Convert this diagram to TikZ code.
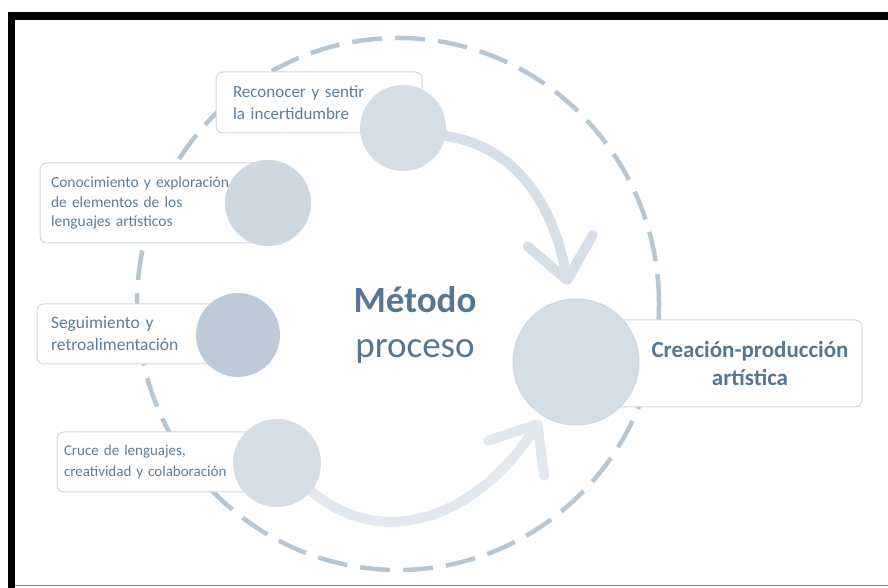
\documentclass[tikz,border=0pt]{standalone}
\usepackage{fontspec}
\setmainfont{Carlito}
\usetikzlibrary{arrows.meta}

\definecolor{anillo}{RGB}{184,198,210}
\definecolor{bordecaja}{RGB}{206,215,224}
\definecolor{letra}{RGB}{96,125,150}
\definecolor{letrafuerte}{RGB}{86,118,145}
\definecolor{bolaclara}{RGB}{213,221,229}
\definecolor{bolamedia}{RGB}{207,216,225}
\definecolor{bolaoscura}{RGB}{188,203,215}
\definecolor{flechaA}{RGB}{214,223,231}
\definecolor{flechaB}{RGB}{226,232,238}

\tikzset{
  caja/.style={draw=bordecaja, fill=white, line width=1pt, rounded corners=7pt, align=left, text=letra, inner ysep=0pt},
  bola/.style={circle, inner sep=0pt},
  flecha/.style={line width=10pt, line cap=round, -{Straight Barb[length=40pt,width=66pt,round]}},
  circulo/.style={draw=anillo, line width=4.5pt, dash pattern=on 30pt off 13pt}
}

\begin{document}
\begin{tikzpicture}[x=1pt,y=1pt]
  \useasboundingbox (0,0) rectangle (888,588);
  %marco
  \fill[black] (8,0) rectangle (15,576);
  \fill[black] (8,568) rectangle (888,576);
  \draw[gray, line width=1pt] (15,2) -- (888,2);

  %anillo punteado
  \draw[circulo] (398,284) ellipse [x radius=261, y radius=266];

  %puntas de flecha
  \coordinate (recpunto) at (445,452);
  \coordinate (crupunto) at (311,97);
  \coordinate (puntaA) at (568,303);
  \coordinate (puntaB) at (540,168);

  %flechas
  \draw[flecha, draw=flechaA] (recpunto) to[out=-8,in=100] (puntaA);
  \draw[flecha, draw=flechaB] (crupunto) to[out=-40,in=-122,looseness=1.1] (puntaB);

  %cajas
  \node[caja, text width=172pt, inner xsep=17pt, minimum height=61pt, font=\fontsize{17}{22}\selectfont] (reccaja) at (319,485.5) {Reconocer y sentir\\la incertidumbre};
  \node[caja, text width=206pt, inner xsep=11pt, minimum height=80pt, font=\fontsize{15.5}{19.5}\selectfont] (concaja) at (154,385) {Conocimiento y exploración\\de elementos de los\\lenguajes artísticos};
  \node[caja, text width=173pt, inner xsep=14pt, minimum height=60pt, font=\fontsize{17.5}{22}\selectfont] (segcaja) at (137.5,254) {Seguimiento y\\retroalimentación};
  \node[caja, text width=206pt, inner xsep=7pt, minimum height=60pt, font=\fontsize{15}{21}\selectfont] (crucaja) at (167,126) {Cruce de lenguajes,\\creatividad y colaboración};
  \node[caja, minimum width=286pt, minimum height=87pt] (crecaja) at (719,224.5) {};

  %bolas
  \node[bola, fill=bolaclara, minimum size=86pt] (recbola) at (403,460) {};
  \node[bola, fill=bolamedia, minimum size=86pt] (conbola) at (268,385) {};
  \node[bola, fill=bolaoscura, minimum size=84pt] (segbola) at (238,253) {};
  \node[bola, fill=bolaclara, minimum size=88pt] (crubola) at (277,125) {};
  \node[bola, fill=bolaclara, draw=bordecaja, line width=1pt, minimum size=126pt] (crebola) at (576,226) {};
  \node[font=\bfseries\fontsize{23}{28}\selectfont, text=letrafuerte, align=center] (cretxt) at (750,224) {Creación-producción\\artística};

  %centro
  \node[font=\bfseries\fontsize{37}{45}\selectfont, text=letrafuerte, anchor=base] (metodo) at (415,275) {Método};
  \node[font=\fontsize{37}{45}\selectfont, text=letrafuerte, anchor=base] (proceso) at (415,230) {proceso};
\end{tikzpicture}
\end{document}
